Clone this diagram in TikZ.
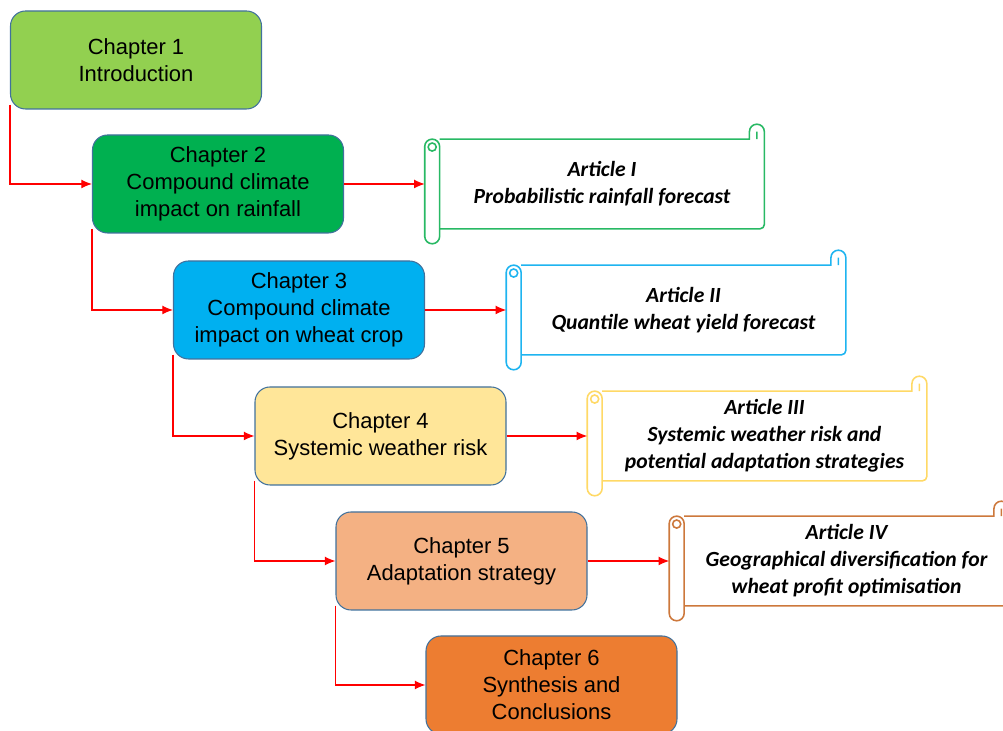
\documentclass[tikz,border=0pt]{standalone}
\usepackage{fontspec}
\setmainfont{Liberation Sans}
\newfontfamily\artfont{Carlito}
\usepackage{tikz}
\usetikzlibrary{calc, arrows.meta, positioning}
\tikzset{>={Latex[length=6pt,width=5pt]}}
\definecolor{chapone}{RGB}{146, 208, 80}
\definecolor{chaptwo}{RGB}{0, 176, 80}
\definecolor{chapthree}{RGB}{0, 176, 240}
\definecolor{chapfour}{RGB}{255, 230, 153}
\definecolor{chapfive}{RGB}{244, 177, 131}
\definecolor{chapsix}{RGB}{237, 125, 49}
\definecolor{boxline}{RGB}{65, 113, 156}
\definecolor{scrgreen}{RGB}{40, 185, 100}
\definecolor{scrblue}{RGB}{30, 180, 240}
\definecolor{scryellow}{RGB}{255, 217, 102}
\definecolor{scrorange}{RGB}{205, 120, 60}
% scroll outline round a body node: #1 node, #2 colour
\newcommand{\scrollshape}[2]{%
\draw[#2, line width=0.9pt] let \p1=(#1.north west), \p2=(#1.south east) in
  (\x1,\y1) -- (\x2-8.5pt,\y1) -- (\x2-8.5pt,\y1+4.25pt)
  arc[start angle=180, end angle=0, radius=4.25pt]
  -- (\x2,\y2+2.5pt) arc[start angle=0, end angle=-90, radius=2.5pt] -- (\x1,\y2)
  (\x2-4.25pt,\y1+4.25pt) -- (\x2-4.25pt,\y1)
  (\x1-8.5pt,\y1-4.25pt) arc[start angle=180, end angle=0, radius=4.25pt]
  -- (\x1,\y2-4.25pt) arc[start angle=0, end angle=-180, radius=4.25pt] -- cycle
  (\x1-4.25pt,\y1-4.5pt) circle (2.3pt);
}

\begin{document}
\begin{tikzpicture}[
  chapbox/.style={draw=boxline, line width=0.6pt, rounded corners=0.3cm,
    minimum width=5.02cm, minimum height=1.96cm, align=center,
    font=\fontsize{12.5}{15.3}\selectfont},
  artbox/.style={minimum width=6.48cm, minimum height=1.78cm, align=center,
    font=\artfont\bfseries\itshape\fontsize{12.3}{15.3}\selectfont},
  conn/.style={->, red, line width=0.6pt}]
\useasboundingbox (0,0) rectangle (20.06,14.62);

\node[chapbox, fill=chapone] (ch1) at (2.72,13.42) {Chapter 1\\Introduction};
\node[chapbox, fill=chaptwo] (ch2) at (4.36,10.94) {Chapter 2\\Compound climate\\impact on rainfall};
\node[chapbox, fill=chapthree] (ch3) at (5.98,8.42) {Chapter 3\\Compound climate\\impact on wheat crop};
\node[chapbox, fill=chapfour] (ch4) at (7.61,5.90) {Chapter 4\\Systemic weather risk};
\node[chapbox, fill=chapfive] (ch5) at (9.23,3.40) {Chapter 5\\Adaptation strategy};
\node[chapbox, fill=chapsix] (ch6) at (11.03,0.92) {Chapter 6\\Synthesis and\\Conclusions};

\node[artbox] (art1) at (12.04,10.94) {Article I\\Probabilistic rainfall forecast};
\node[artbox] (art2) at (13.67,8.42) {Article II\\Quantile wheat yield forecast};
\node[artbox] (art3) at (15.29,5.90) {Article III\\Systemic weather risk and\\potential adaptation strategies};
\node[artbox] (art4) at (16.93,3.40) {Article IV\\Geographical diversification for\\wheat profit optimisation};

\scrollshape{art1}{scrgreen}
\scrollshape{art2}{scrblue}
\scrollshape{art3}{scryellow}
\scrollshape{art4}{scrorange}

\draw[conn] ([yshift=0.1cm]ch1.south west) |- (ch2.west);
\draw[conn] ([yshift=0.1cm]ch2.south west) |- (ch3.west);
\draw[conn] ([yshift=0.1cm]ch3.south west) |- (ch4.west);
\draw[conn] ([yshift=0.1cm]ch4.south west) |- (ch5.west);
\draw[conn] ([yshift=0.1cm]ch5.south west) |- (ch6.west);

\draw[conn] (ch2.east) -- ([xshift=-8.5pt]art1.west);
\draw[conn] (ch3.east) -- ([xshift=-8.5pt]art2.west);
\draw[conn] (ch4.east) -- ([xshift=-8.5pt]art3.west);
\draw[conn] (ch5.east) -- ([xshift=-8.5pt]art4.west);
\end{tikzpicture}
\end{document}
